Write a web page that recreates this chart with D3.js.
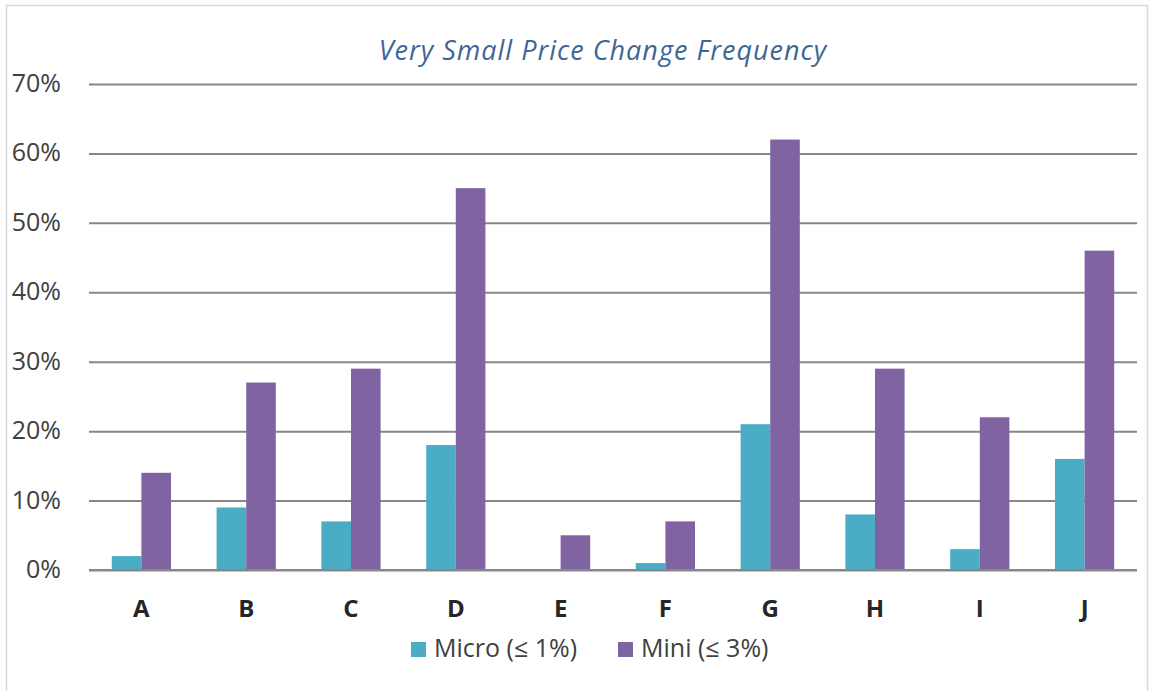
<!DOCTYPE html>
<html>
<head>
<meta charset="utf-8">
<script src="https://cdn.jsdelivr.net/npm/d3@7"></script>
<style>
  body { margin: 0; background: #fff; }
  svg { display: block; }
</style>
</head>
<body>
<svg id="chart" width="1149" height="691"></svg>
<script>
const categories = ["A", "B", "C", "D", "E", "F", "G", "H", "I", "J"];
const seriesNames = ["Micro (≤ 1%)", "Mini (≤ 3%)"];
const microValues = [2, 9, 7, 18, 0, 1, 21, 8, 3, 16];
const miniValues = [14, 27, 29, 55, 5, 7, 62, 29, 22, 46];
const yTicks = [0, 10, 20, 30, 40, 50, 60, 70];
const title = "Very Small Price Change Frequency";
const colors = ["#4BACC6", "#8064A2"];

const svg = d3.select("#chart");
const W = 1149, H = 691;
const m = { left: 89, right: 1137, top: 84, bottom: 570 };

svg.append("rect").attr("x", 6.5).attr("y", 5.5).attr("width", W - 8).attr("height", H - 4)
  .attr("fill", "#fff").attr("stroke", "#d9d9d9").attr("stroke-width", 1.5);

const x = d3.scaleBand().domain(categories).range([m.left, m.right]).paddingInner(0).paddingOuter(0);
const y = d3.scaleLinear().domain([0, 70]).range([m.bottom, m.top]);
const inner = d3.scaleBand().domain([0, 1]).range([0, x.bandwidth() * 0.565]);

// gridlines
const yAxis = d3.axisLeft(y).tickValues(yTicks).tickSize(-(m.right - m.left)).tickFormat(d => d + "%").tickPadding(28);
const gy = svg.append("g").attr("transform", `translate(${m.left},0)`).call(yAxis);
gy.select(".domain").remove();
gy.selectAll(".tick line").attr("stroke", "#878787").attr("stroke-width", 2);
gy.selectAll(".tick text").attr("fill", "#404040").attr("font-family", "'Open Sans', sans-serif")
  .attr("font-size", 25).attr("dy", "0.3em");

const data = [microValues, miniValues];
const groupOffset = (x.bandwidth() - inner.range()[1]) / 2;
data.forEach((vals, si) => {
  svg.append("g").selectAll("rect").data(vals).join("rect")
    .attr("x", (d, i) => x(categories[i]) + groupOffset + inner(si))
    .attr("y", d => y(d))
    .attr("width", inner.bandwidth())
    .attr("height", d => y(0) - y(d))
    .attr("fill", colors[si]);
});

// baseline redraw on top
svg.append("line").attr("x1", m.left).attr("x2", m.right).attr("y1", y(0)).attr("y2", y(0))
  .attr("stroke", "#878787").attr("stroke-width", 2);

// x axis labels
const xAxis = d3.axisBottom(x).tickSize(0).tickPadding(0);
const gx = svg.append("g").attr("transform", `translate(0,${m.bottom})`).call(xAxis);
gx.select(".domain").remove();
gx.selectAll(".tick text").attr("fill", "#262626").attr("font-family", "'Open Sans', sans-serif")
  .attr("font-weight", "bold").attr("font-size", 24).attr("y", 47).attr("dy", 0);

// title
svg.append("text").attr("x", 603).attr("y", 60).attr("text-anchor", "middle")
  .attr("font-family", "'Open Sans', sans-serif").attr("font-style", "italic")
  .attr("font-size", 27).attr("letter-spacing", 1).attr("fill", "#3F6597").text(title);

// legend
const legendItems = [{ x: 411, name: seriesNames[0], c: colors[0] }, { x: 618, name: seriesNames[1], c: colors[1] }];
const lg = svg.append("g");
legendItems.forEach(it => {
  lg.append("rect").attr("x", it.x).attr("y", 642).attr("width", 15).attr("height", 15).attr("fill", it.c);
  lg.append("text").attr("x", it.x + 23).attr("y", 657).attr("font-family", "'Open Sans', sans-serif")
    .attr("font-size", 25).attr("fill", "#404040").text(it.name);
});
</script>
</body>
</html>
